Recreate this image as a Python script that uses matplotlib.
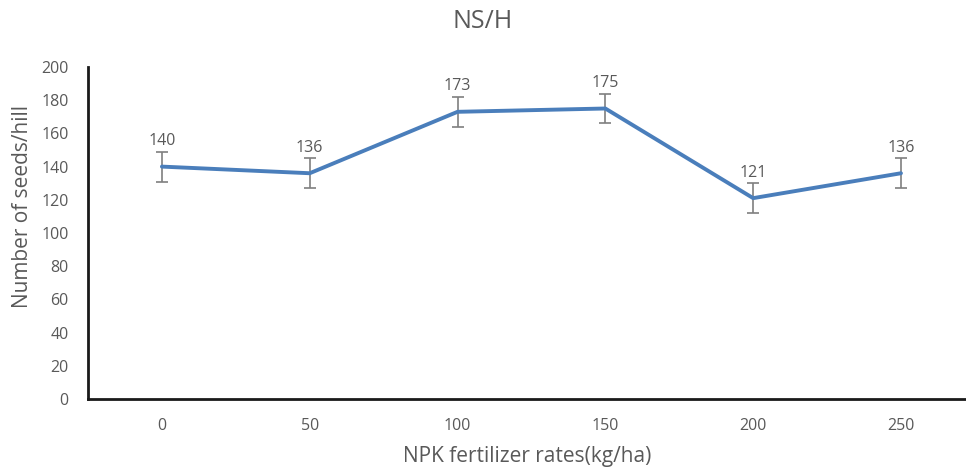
import matplotlib
matplotlib.use("Agg")
import matplotlib.pyplot as plt

# Data
rates = ["0", "50", "100", "150", "200", "250"]
seeds = [140, 136, 173, 175, 121, 136]
errors = [9, 9, 9, 9, 9, 9]

GREY = "#595959"
plt.rcParams["font.family"] = ["Open Sans", "DejaVu Sans"]

fig = plt.figure(figsize=(9.66, 4.73), dpi=100)
ax = fig.add_axes([88 / 966, 1 - 399 / 473, 1 - 88 / 966, (399 - 67) / 473])

x = range(len(rates))
ax.plot(x, seeds, color="#4a7ebb", lw=2.8, solid_capstyle="round", zorder=3)
ax.errorbar(x, seeds, yerr=errors, fmt="none", ecolor="#7f7f7f",
            elinewidth=1.2, capsize=4, capthick=1.2, zorder=2)
for xi, v, e in zip(x, seeds, errors):
    ax.text(xi, v + e + 1.5, f"{v}", ha="center", va="bottom",
            fontsize=11.5, color=GREY)

ax.set_xlim(-0.5, 5.44)
ax.set_ylim(0, 200)
ax.set_yticks(range(0, 201, 20))
ax.set_xticks(list(x))
ax.set_xticklabels(rates)
ax.tick_params(axis="both", length=0, labelsize=11.5, labelcolor=GREY)
ax.tick_params(axis="x", pad=14)
ax.tick_params(axis="y", pad=14)

for side in ["top", "right"]:
    ax.spines[side].set_visible(False)
for side in ["left", "bottom"]:
    ax.spines[side].set_linewidth(2)
    ax.spines[side].set_color("#1a1a1a")

ax.set_xlabel("NPK fertilizer rates(kg/ha)", fontsize=15, color=GREY, labelpad=8)
ax.set_ylabel("Number of seeds/hill", fontsize=15, color=GREY)
ax.yaxis.set_label_coords(-(88 - 33) / 878, 0.58)
fig.text(0.5, 1 - 22 / 473, "NS/H", ha="center", va="center",
         fontsize=18, color=GREY)

fig.savefig("out.png", dpi=100)
